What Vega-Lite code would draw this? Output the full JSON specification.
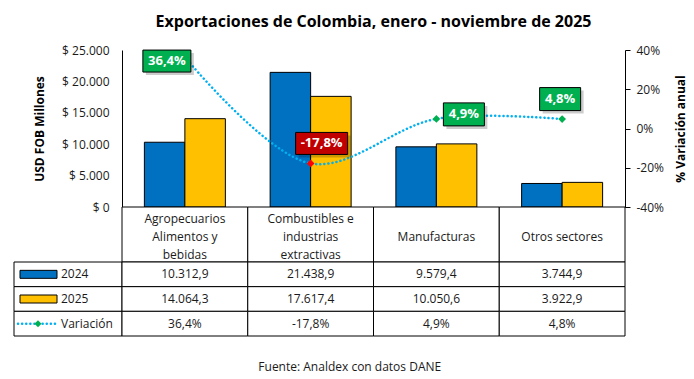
{
  "$schema": "https://vega.github.io/schema/vega-lite/v6.json",
  "padding": {"left": 13, "top": 14, "right": 5, "bottom": 5},
  "background": "white",
  "datasets": {
    "bars": [
      {"cat": "Agropecuarios Alimentos y bebidas", "year": "2024", "value": 10312.9},
      {"cat": "Agropecuarios Alimentos y bebidas", "year": "2025", "value": 14064.3},
      {"cat": "Combustibles e industrias extractivas", "year": "2024", "value": 21438.9},
      {"cat": "Combustibles e industrias extractivas", "year": "2025", "value": 17617.4},
      {"cat": "Manufacturas", "year": "2024", "value": 9579.4},
      {"cat": "Manufacturas", "year": "2025", "value": 10050.6},
      {"cat": "Otros sectores", "year": "2024", "value": 3744.9},
      {"cat": "Otros sectores", "year": "2025", "value": 3922.9}
    ],
    "variation": [
      {"cat": "Agropecuarios Alimentos y bebidas", "row": "Variación", "pct": 0.364},
      {"cat": "Combustibles e industrias extractivas", "row": "Variación", "pct": -0.178},
      {"cat": "Manufacturas", "row": "Variación", "pct": 0.049},
      {"cat": "Otros sectores", "row": "Variación", "pct": 0.048}
    ],
    "cats": [
      {"cat": "Agropecuarios Alimentos y bebidas", "lines": ["Agropecuarios", "Alimentos y", "bebidas"]},
      {"cat": "Combustibles e industrias extractivas", "lines": ["Combustibles e", "industrias", "extractivas"]},
      {"cat": "Manufacturas", "lines": ["Manufacturas"]},
      {"cat": "Otros sectores", "lines": ["Otros sectores"]}
    ],
    "series": [
      {"series": "2024", "kind": "bar"},
      {"series": "2025", "kind": "bar"},
      {"series": "Variación", "kind": "line"}
    ]
  },
  "title": {"text": "Fuente: Analdex con datos DANE", "orient": "bottom", "anchor": "middle", "font": "Open Sans", "fontSize": 12, "fontWeight": "normal", "color": "#1a1a1a", "offset": 25},
  "columns": 2,
  "spacing": 0,
  "bounds": "flush",
  "concat": [
    {"width": 108, "height": 157, "data": {"values": [{}]}, "mark": {"type": "point", "opacity": 0}},
    {
      "width": 503,
      "height": 157,
      "title": {"text": "Exportaciones de Colombia, enero - noviembre de 2025", "font": "Open Sans", "fontSize": 16, "fontWeight": "bold", "color": "#000", "anchor": "middle", "offset": 14},
      "layer": [
        {
          "data": {"name": "bars"},
          "encoding": {
            "x": {"field": "cat", "type": "nominal", "scale": {"paddingInner": 0.356, "paddingOuter": 0.178}, "axis": {"title": null, "labels": false, "ticks": false, "domain": true, "domainColor": "#000"}},
            "xOffset": {"field": "year", "type": "nominal", "scale": {"paddingInner": 0, "paddingOuter": 0}},
            "y": {"field": "value", "type": "quantitative", "scale": {"domain": [0, 25000], "nice": false}, "axis": {"values": [0, 5000, 10000, 15000, 20000, 25000], "format": "$,.0f", "ticks": false, "tickSize": 0, "labelPadding": 13, "title": "USD FOB Millones", "titlePadding": 15}}
          },
          "layer": [
            {"mark": {"type": "bar", "fill": "#000", "opacity": 0.12, "xOffset": 3, "yOffset": 2}},
            {"mark": {"type": "bar", "stroke": "#000", "strokeWidth": 1}, "encoding": {"color": {"field": "year", "type": "nominal", "scale": {"domain": ["2024", "2025"], "range": ["#0070C0", "#FFC000"]}, "legend": null}}}
          ]
        },
        {
          "data": {"name": "variation"},
          "encoding": {
            "x": {"field": "cat", "type": "nominal"},
            "y": {"field": "pct", "type": "quantitative", "scale": {"domain": [-0.4, 0.4], "nice": false}, "axis": {"orient": "right", "values": [-0.4, -0.2, 0, 0.2, 0.4], "format": ".0%", "tickSize": 5, "labelPadding": 6, "title": "% Variación anual", "titleAngle": 270, "titlePadding": 24}}
          },
          "layer": [
            {"mark": {"type": "line", "interpolate": "catmull-rom", "color": "#00B0F0", "strokeWidth": 2.5, "strokeDash": [0.1, 4], "strokeCap": "round"}},
            {"mark": {"type": "point", "shape": "diamond", "filled": true, "size": 60, "opacity": 1}, "encoding": {"color": {"condition": {"test": "datum.pct < 0", "value": "#FF0000"}, "value": "#00B050"}}},
            {
              "mark": {"type": "point", "filled": true, "opacity": 0.2, "color": "#000",
                "xOffset": {"expr": "(datum.pct > 0.3 ? -18 : datum.pct < 0 ? 11 : datum.pct > 0.0485 ? 27.5 : -2) + 3"},
                "yOffset": {"expr": "(datum.pct > 0.3 ? 4 : datum.pct < 0 ? -20 : datum.pct > 0.0485 ? -4.5 : -20) + 3"}},
              "encoding": {
                "shape": {"condition": [{"test": "datum.pct < 0", "value": "M-1,-0.423L1,-0.423L1,0.423L-1,0.423Z"}, {"test": "datum.pct > 0.3", "value": "M-1,-0.458L1,-0.458L1,0.458L-1,0.458Z"}], "value": "M-1,-0.561L1,-0.561L1,0.561L-1,0.561Z"},
                "size": {"condition": [{"test": "datum.pct < 0", "value": 2704}, {"test": "datum.pct > 0.3", "value": 2304}], "value": 1681}
              }
            },
            {
              "mark": {"type": "point", "filled": true, "opacity": 1, "stroke": "#000", "strokeWidth": 1,
                "xOffset": {"expr": "datum.pct > 0.3 ? -18 : datum.pct < 0 ? 11 : datum.pct > 0.0485 ? 27.5 : -2"},
                "yOffset": {"expr": "datum.pct > 0.3 ? 4 : datum.pct < 0 ? -20 : datum.pct > 0.0485 ? -4.5 : -20"}},
              "encoding": {
                "shape": {"condition": [{"test": "datum.pct < 0", "value": "M-1,-0.423L1,-0.423L1,0.423L-1,0.423Z"}, {"test": "datum.pct > 0.3", "value": "M-1,-0.458L1,-0.458L1,0.458L-1,0.458Z"}], "value": "M-1,-0.561L1,-0.561L1,0.561L-1,0.561Z"},
                "size": {"condition": [{"test": "datum.pct < 0", "value": 2704}, {"test": "datum.pct > 0.3", "value": 2304}], "value": 1681},
                "fill": {"condition": {"test": "datum.pct < 0", "value": "#C00000"}, "value": "#00B050"}
              }
            },
            {
              "mark": {"type": "text", "color": "#fff", "font": "Open Sans", "fontWeight": "bold", "fontSize": 13, "baseline": "middle",
                "xOffset": {"expr": "datum.pct > 0.3 ? -18 : datum.pct < 0 ? 11 : datum.pct > 0.0485 ? 27.5 : -2"},
                "yOffset": {"expr": "datum.pct > 0.3 ? 4 : datum.pct < 0 ? -20 : datum.pct > 0.0485 ? -4.5 : -20"}},
              "encoding": {"text": {"field": "pct", "type": "quantitative", "format": ".1%"}}
            }
          ]
        }
      ],
      "resolve": {"scale": {"y": "independent"}}
    },
    {"width": 108, "height": 55, "data": {"values": [{}]}, "mark": {"type": "point", "opacity": 0}},
    {
      "width": 503,
      "height": 55,
      "data": {"name": "cats"},
      "encoding": {"x": {"field": "cat", "type": "nominal", "scale": {"paddingInner": 0, "paddingOuter": 0}, "axis": null}},
      "layer": [
        {"mark": {"type": "rect", "fill": "#fff", "stroke": "#000", "strokeWidth": 1}},
        {"mark": {"type": "text", "font": "Open Sans", "fontSize": 12, "color": "#1a1a1a", "lineHeight": 18, "baseline": "middle", "yOffset": {"expr": "2 - (length(datum.lines) - 1) * 9"}}, "encoding": {"text": {"field": "lines"}}}
      ]
    },
    {
      "width": 108,
      "height": 74,
      "data": {"name": "series"},
      "encoding": {
        "y": {"field": "series", "type": "nominal", "sort": null, "scale": {"domain": ["2024", "2025", "Variación"], "paddingInner": 0, "paddingOuter": 0}, "axis": null}
      },
      "layer": [
        {"mark": {"type": "rect", "fill": "#fff", "stroke": "#000", "strokeWidth": 1}},
        {
          "transform": [{"filter": "datum.kind == 'bar'"}],
          "mark": {"type": "rect", "width": 37, "height": 8, "stroke": "#000", "strokeWidth": 1, "xOffset": -2.5},
          "encoding": {
            "x": {"datum": "key", "type": "nominal", "scale": {"domain": ["key", "label"], "paddingInner": 0, "paddingOuter": 0}, "axis": null},
            "fill": {"field": "series", "type": "nominal", "scale": {"domain": ["2024", "2025"], "range": ["#0070C0", "#FFC000"]}, "legend": null}
          }
        },
        {
          "transform": [{"filter": "datum.kind == 'line'"}],
          "mark": {"type": "point", "shape": "M-1,0L1,0", "size": 1600, "filled": false, "stroke": "#00B0F0", "strokeWidth": 2.5, "strokeDash": [0.1, 4], "strokeCap": "round", "opacity": 1, "xOffset": -3},
          "encoding": {"x": {"datum": "key", "type": "nominal"}}
        },
        {
          "transform": [{"filter": "datum.kind == 'line'"}],
          "mark": {"type": "point", "shape": "diamond", "filled": true, "color": "#00B050", "size": 50, "opacity": 1, "xOffset": -3},
          "encoding": {"x": {"datum": "key", "type": "nominal"}}
        },
        {
          "mark": {"type": "text", "align": "left", "dx": -7, "font": "Open Sans", "fontSize": 12, "color": "#1a1a1a", "baseline": "middle"},
          "encoding": {"x": {"datum": "label", "type": "nominal", "bandPosition": 0}, "text": {"field": "series"}}
        }
      ]
    },
    {
      "width": 503,
      "height": 74,
      "encoding": {"x": {"field": "cat", "type": "nominal", "scale": {"paddingInner": 0, "paddingOuter": 0}, "axis": null}},
      "layer": [
        {
          "data": {"name": "bars"},
          "encoding": {"y": {"field": "year", "type": "nominal", "scale": {"domain": ["2024", "2025", "Variación"], "paddingInner": 0, "paddingOuter": 0}, "axis": null}},
          "layer": [
            {"mark": {"type": "rect", "fill": "#fff", "stroke": "#000", "strokeWidth": 1}},
            {"mark": {"type": "text", "font": "Open Sans", "fontSize": 12, "color": "#1a1a1a", "baseline": "middle"}, "encoding": {"text": {"field": "value", "type": "quantitative", "format": ",.1f"}}}
          ]
        },
        {
          "data": {"name": "variation"},
          "encoding": {"y": {"field": "row", "type": "nominal"}},
          "layer": [
            {"mark": {"type": "rect", "fill": "#fff", "stroke": "#000", "strokeWidth": 1}},
            {"mark": {"type": "text", "font": "Open Sans", "fontSize": 12, "color": "#1a1a1a", "baseline": "middle"}, "encoding": {"text": {"field": "pct", "type": "quantitative", "format": ".1%"}}}
          ]
        }
      ]
    }
  ],
  "config": {
    "view": {"stroke": null},
    "font": "Open Sans",
    "locale": {"number": {"decimal": ",", "thousands": ".", "grouping": [3], "currency": ["$ ", ""], "minus": "-"}},
    "axis": {"labelFont": "Open Sans", "labelFontSize": 12, "labelColor": "#1a1a1a", "titleFont": "Open Sans", "titleFontSize": 12, "titleFontWeight": "bold", "titleColor": "#000", "grid": false, "domainColor": "#000", "tickColor": "#000"}
  }
}
